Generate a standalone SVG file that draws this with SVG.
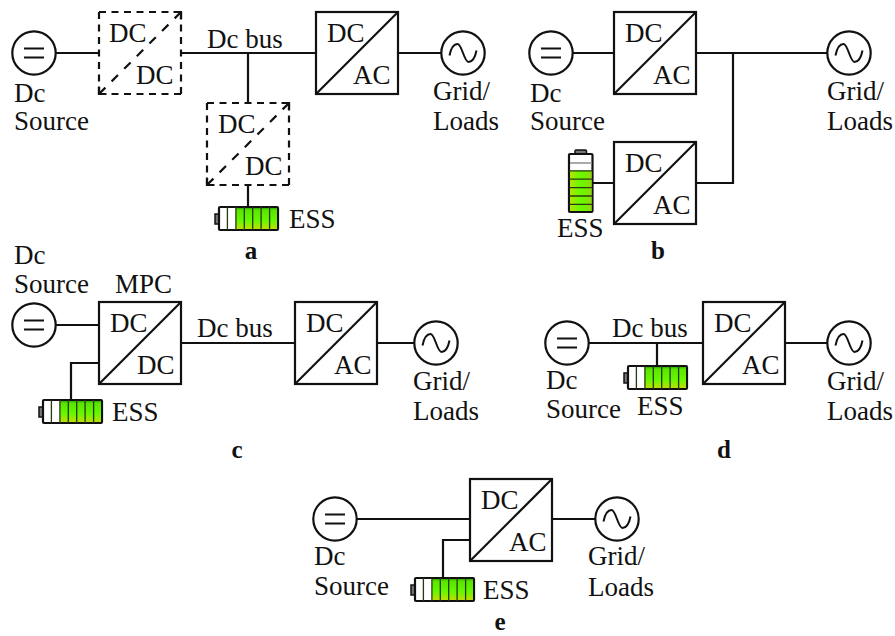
<svg xmlns="http://www.w3.org/2000/svg" width="895" height="636" viewBox="0 0 895 636">
<style>
text{font-family:"Liberation Serif","Times New Roman",serif;font-size:27px;fill:#111}
text.b{font-weight:bold;text-anchor:middle;font-size:25px}
.s{fill:#fff;stroke:#111;stroke-width:2.200}
.d{fill:none;stroke:#111;stroke-width:2.200;stroke-dasharray:7 5.500}
.g{fill:none;stroke:#111;stroke-width:2.200;stroke-dasharray:9 8.830}
.l{fill:none;stroke:#111;stroke-width:2.200}
.w{fill:none;stroke:#111;stroke-width:2}
.t{fill:none;stroke:#263a10;stroke-width:1.300}
</style>
<defs>
<linearGradient id="gh" x1="0" y1="0" x2="0" y2="1"><stop offset="0" stop-color="#2fae00"/><stop offset=".1" stop-color="#5ae400"/><stop offset=".6" stop-color="#66f800"/><stop offset="1" stop-color="#bce000"/></linearGradient>
<linearGradient id="gv" x1="0" y1="0" x2="1" y2="0"><stop offset="0" stop-color="#b4e400"/><stop offset=".5" stop-color="#66fa00"/><stop offset="1" stop-color="#90dc00"/></linearGradient>
<g id="bat"><rect x="-4" y="7" width="4" height="10" fill="#777" stroke="#111" stroke-width="1.500"/><rect x="0" y="0" width="59" height="23" rx="1" class="s"/><rect x="17" y="1" width="41" height="21" fill="url(#gh)"/><path class="t" d="M8.400 0V23M16.900 0V23M25.300 0V23M33.700 0V23M42.100 0V23M50.600 0V23"/></g>
<g id="batv"><rect x="6" y="-4" width="11.500" height="4" rx="1" fill="#777" stroke="#111" stroke-width="1.500"/><rect x="0" y="0" width="23.500" height="58" rx="1" class="s"/><rect x="1" y="8" width="21.500" height="2" fill="#aaa"/><rect x="1" y="16.500" width="21.500" height="40.500" fill="url(#gv)"/><path class="t" d="M0 16.800H23.500M0 25.200H23.500M0 33.600H23.500M0 42H23.500M0 50.400H23.500"/></g>
<g id="dc-source"><circle r="21.700" class="s"/><path class="l" d="M-10-4.500H10M-10 4.500H10"/></g>
<g id="ac-source"><circle r="21.700" class="s"/><path class="w" d="M-13.500 2.500C-12-5-9-9-5.500-9C-1-9 1 9 5.500 9C9 9 12 5 13.500-2.500"/></g>
<g id="sq"><rect class="s" width="82" height="82"/><path class="l" d="M0 82L82 0"/></g>
<g id="sq-dash"><path class="d" d="M0 0H82M82 0V82M0 82H82M0 0V82"/><path class="g" d="M0 82L82 0"/><path class="l" d="M0 74.500V82H7.500M74.500 0H82V7.500"/></g>
</defs>
<g id="connectors">
<path class="l" d="M56 53H99M181 53H316M248 53V103M248 185V207M398 53H442"/>
<path class="l" d="M573 53H614M696 53H828M733 53V183H696M592 183H614"/>
<path class="l" d="M56 325H99M99 363H71V400M181 343H295M377 343H415"/>
<path class="l" d="M589 343H703M657 343V366M785 343H828"/>
<path class="l" d="M357 519H470M470 540H443V578M552 519H596"/>
</g>
<g id="dashed-a1"><use href="#sq-dash" x="99" y="12"/><text x="109" y="42">DC</text><text x="136" y="84">DC</text></g>
<g id="dashed-a2"><use href="#sq-dash" x="207" y="103"/><text x="218" y="133">DC</text><text x="245" y="175">DC</text></g>
<g id="inv-a"><use href="#sq" x="316" y="12"/><text x="327" y="42">DC</text><text x="353" y="84">AC</text></g>
<g id="src-a"><use href="#dc-source" x="34" y="53"/><text x="14" y="102">Dc</text><text x="14" y="130">Source</text></g>
<g id="grid-a"><use href="#ac-source" x="463" y="53"/><text x="433" y="100">Grid/</text><text x="433" y="130">Loads</text></g>
<text x="207" y="48">Dc bus</text>
<g id="ess-a"><use href="#bat" x="219" y="207"/><text x="289" y="228">ESS</text></g>
<text class="b" x="251" y="259">a</text>

<g id="src-b"><use href="#dc-source" x="551" y="53"/><text x="530" y="102">Dc</text><text x="530" y="130">Source</text></g>
<g id="inv-b1"><use href="#sq" x="614" y="12"/><text x="625" y="42">DC</text><text x="653" y="84">AC</text></g>
<g id="grid-b"><use href="#ac-source" x="849" y="53"/><text x="827" y="100">Grid/</text><text x="827" y="130">Loads</text></g>
<g id="inv-b2"><use href="#sq" x="614" y="142"/><text x="625" y="172">DC</text><text x="653" y="214">AC</text></g>
<g id="ess-b"><use href="#batv" x="569" y="154"/><text x="557" y="237">ESS</text></g>
<text class="b" x="658" y="259">b</text>

<text x="14" y="264">Dc</text><text x="14" y="293">Source</text><text x="115" y="293">MPC</text>
<g id="src-c"><use href="#dc-source" x="34" y="325"/></g>
<g id="mpc"><use href="#sq" x="99" y="302"/><text x="110" y="332">DC</text><text x="137" y="374">DC</text></g>
<g id="ess-c"><use href="#bat" x="43" y="400"/><text x="112" y="421">ESS</text></g>
<text x="197" y="337">Dc bus</text>
<g id="inv-c"><use href="#sq" x="295" y="302"/><text x="306" y="332">DC</text><text x="334" y="374">AC</text></g>
<g id="grid-c"><use href="#ac-source" x="436" y="343"/><text x="413" y="390">Grid/</text><text x="413" y="420">Loads</text></g>
<text class="b" x="237" y="458">c</text>

<g id="src-d"><use href="#dc-source" x="567" y="343"/><text x="546" y="389">Dc</text><text x="546" y="418">Source</text></g>
<text x="612" y="337">Dc bus</text>
<g id="ess-d"><use href="#bat" x="628" y="366"/><text x="637" y="415">ESS</text></g>
<g id="inv-d"><use href="#sq" x="703" y="302"/><text x="714" y="332">DC</text><text x="742" y="374">AC</text></g>
<g id="grid-d"><use href="#ac-source" x="849" y="343"/><text x="827" y="390">Grid/</text><text x="827" y="420">Loads</text></g>
<text class="b" x="724" y="458">d</text>

<g id="src-e"><use href="#dc-source" x="335" y="519"/><text x="314" y="565">Dc</text><text x="314" y="595">Source</text></g>
<g id="inv-e"><use href="#sq" x="470" y="479"/><text x="481" y="509">DC</text><text x="509" y="551">AC</text></g>
<g id="grid-e"><use href="#ac-source" x="617" y="519"/><text x="588" y="565">Grid/</text><text x="588" y="596">Loads</text></g>
<g id="ess-e"><use href="#bat" x="415" y="578"/><text x="483" y="599">ESS</text></g>
<text class="b" x="500" y="630">e</text>
</svg>
